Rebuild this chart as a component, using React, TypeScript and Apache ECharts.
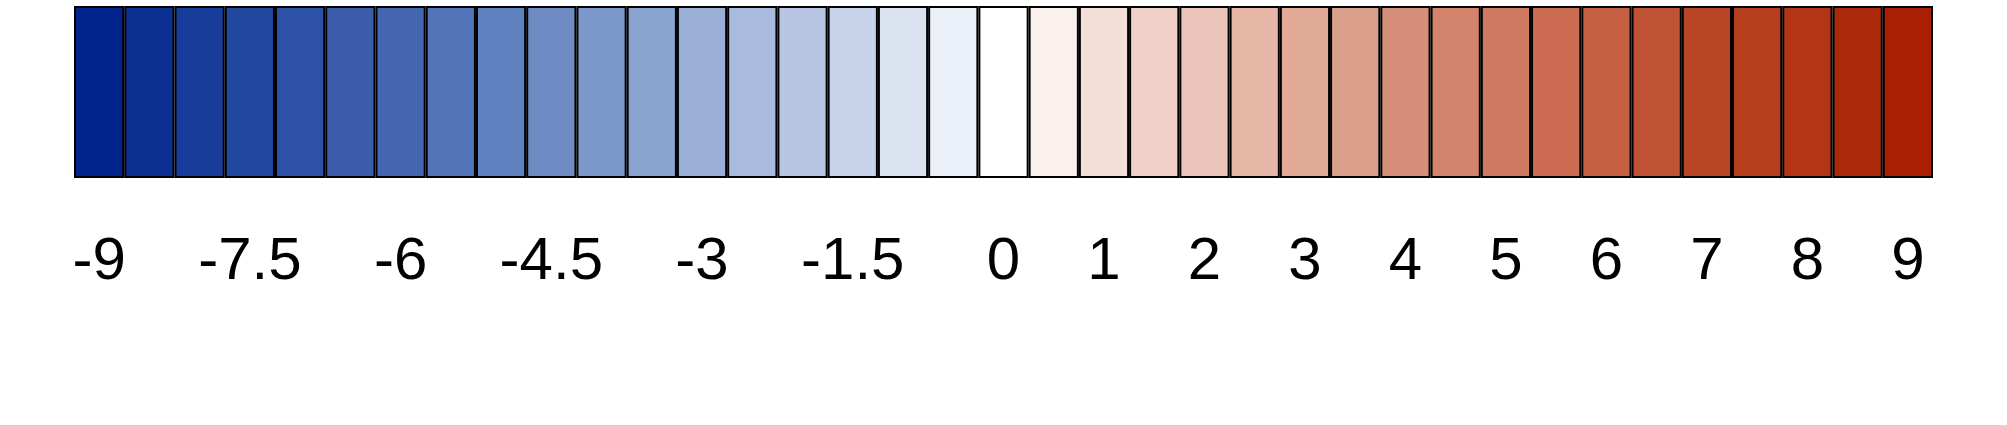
import React, { useEffect, useRef } from "react";
import * as echarts from "echarts";

const categories = [
  "-9", "-8.5", "-8", "-7.5", "-7", "-6.5", "-6", "-5.5", "-5", "-4.5", "-4", "-3.5", "-3", "-2.5", "-2", "-1.5", "-1", "-0.5",
  "0",
  "0.5", "1", "1.5", "2", "2.5", "3", "3.5", "4", "4.5", "5", "5.5", "6", "6.5", "7", "7.5", "8", "8.5", "9",
];

const cellColors = [
  "#00238E", "#0C3091", "#173C99", "#22479F", "#2C51A6", "#3A5CAA", "#4466B1", "#5274B8", "#5F81BF",
  "#6E8CC3", "#7C98CB", "#8AA4D0", "#9AAFD6", "#A9BBDD", "#B8C6E3", "#C8D4EB", "#DAE1EF", "#EAEFF8",
  "#FFFFFF",
  "#FAF0EC", "#F4DFD8", "#EFD1C8", "#EAC4B9", "#E6B6A6", "#E0AA97", "#DAA08B", "#D68F78", "#D3836B",
  "#CF7A60", "#CC6C52", "#C55F42", "#C05236", "#B94527", "#B6401E", "#B23515", "#AB2A0C", "#AB1F05",
];

const labelledTicks = ["-9", "-7.5", "-6", "-4.5", "-3", "-1.5", "0", "1", "2", "3", "4", "5", "6", "7", "8", "9"];

export default function App() {
  const ref = useRef<HTMLDivElement>(null);
  useEffect(() => {
    if (!ref.current) return;
    const chart = echarts.init(ref.current, null, { renderer: "svg" });
    chart.setOption({
      animation: false,
      backgroundColor: "#ffffff",
      grid: { left: 74, right: 74, top: 6, height: 172 },
      xAxis: {
        type: "category",
        data: categories,
        axisLine: { show: false },
        axisTick: { show: false },
        axisLabel: {
          interval: (_i: number, v: string) => labelledTicks.indexOf(v) >= 0,
          margin: 50,
          fontSize: 60,
          color: "#000",
          fontFamily: "Liberation Sans, Arial, sans-serif",
        },
      },
      yAxis: { type: "value", min: 0, max: 1, show: false },
      series: [
        {
          type: "bar",
          barWidth: "100%",
          barCategoryGap: "0%",
          data: categories.map((_c, i) => ({
            value: 1,
            itemStyle: { color: cellColors[i], borderColor: "#000", borderWidth: 2 },
          })),
        },
      ],
    });
    return () => chart.dispose();
  }, []);
  return (
    <div
      ref={ref}
      style={{ position: "fixed", left: 0, top: 0, width: 2007, height: 425 }}
    />
  );
}
